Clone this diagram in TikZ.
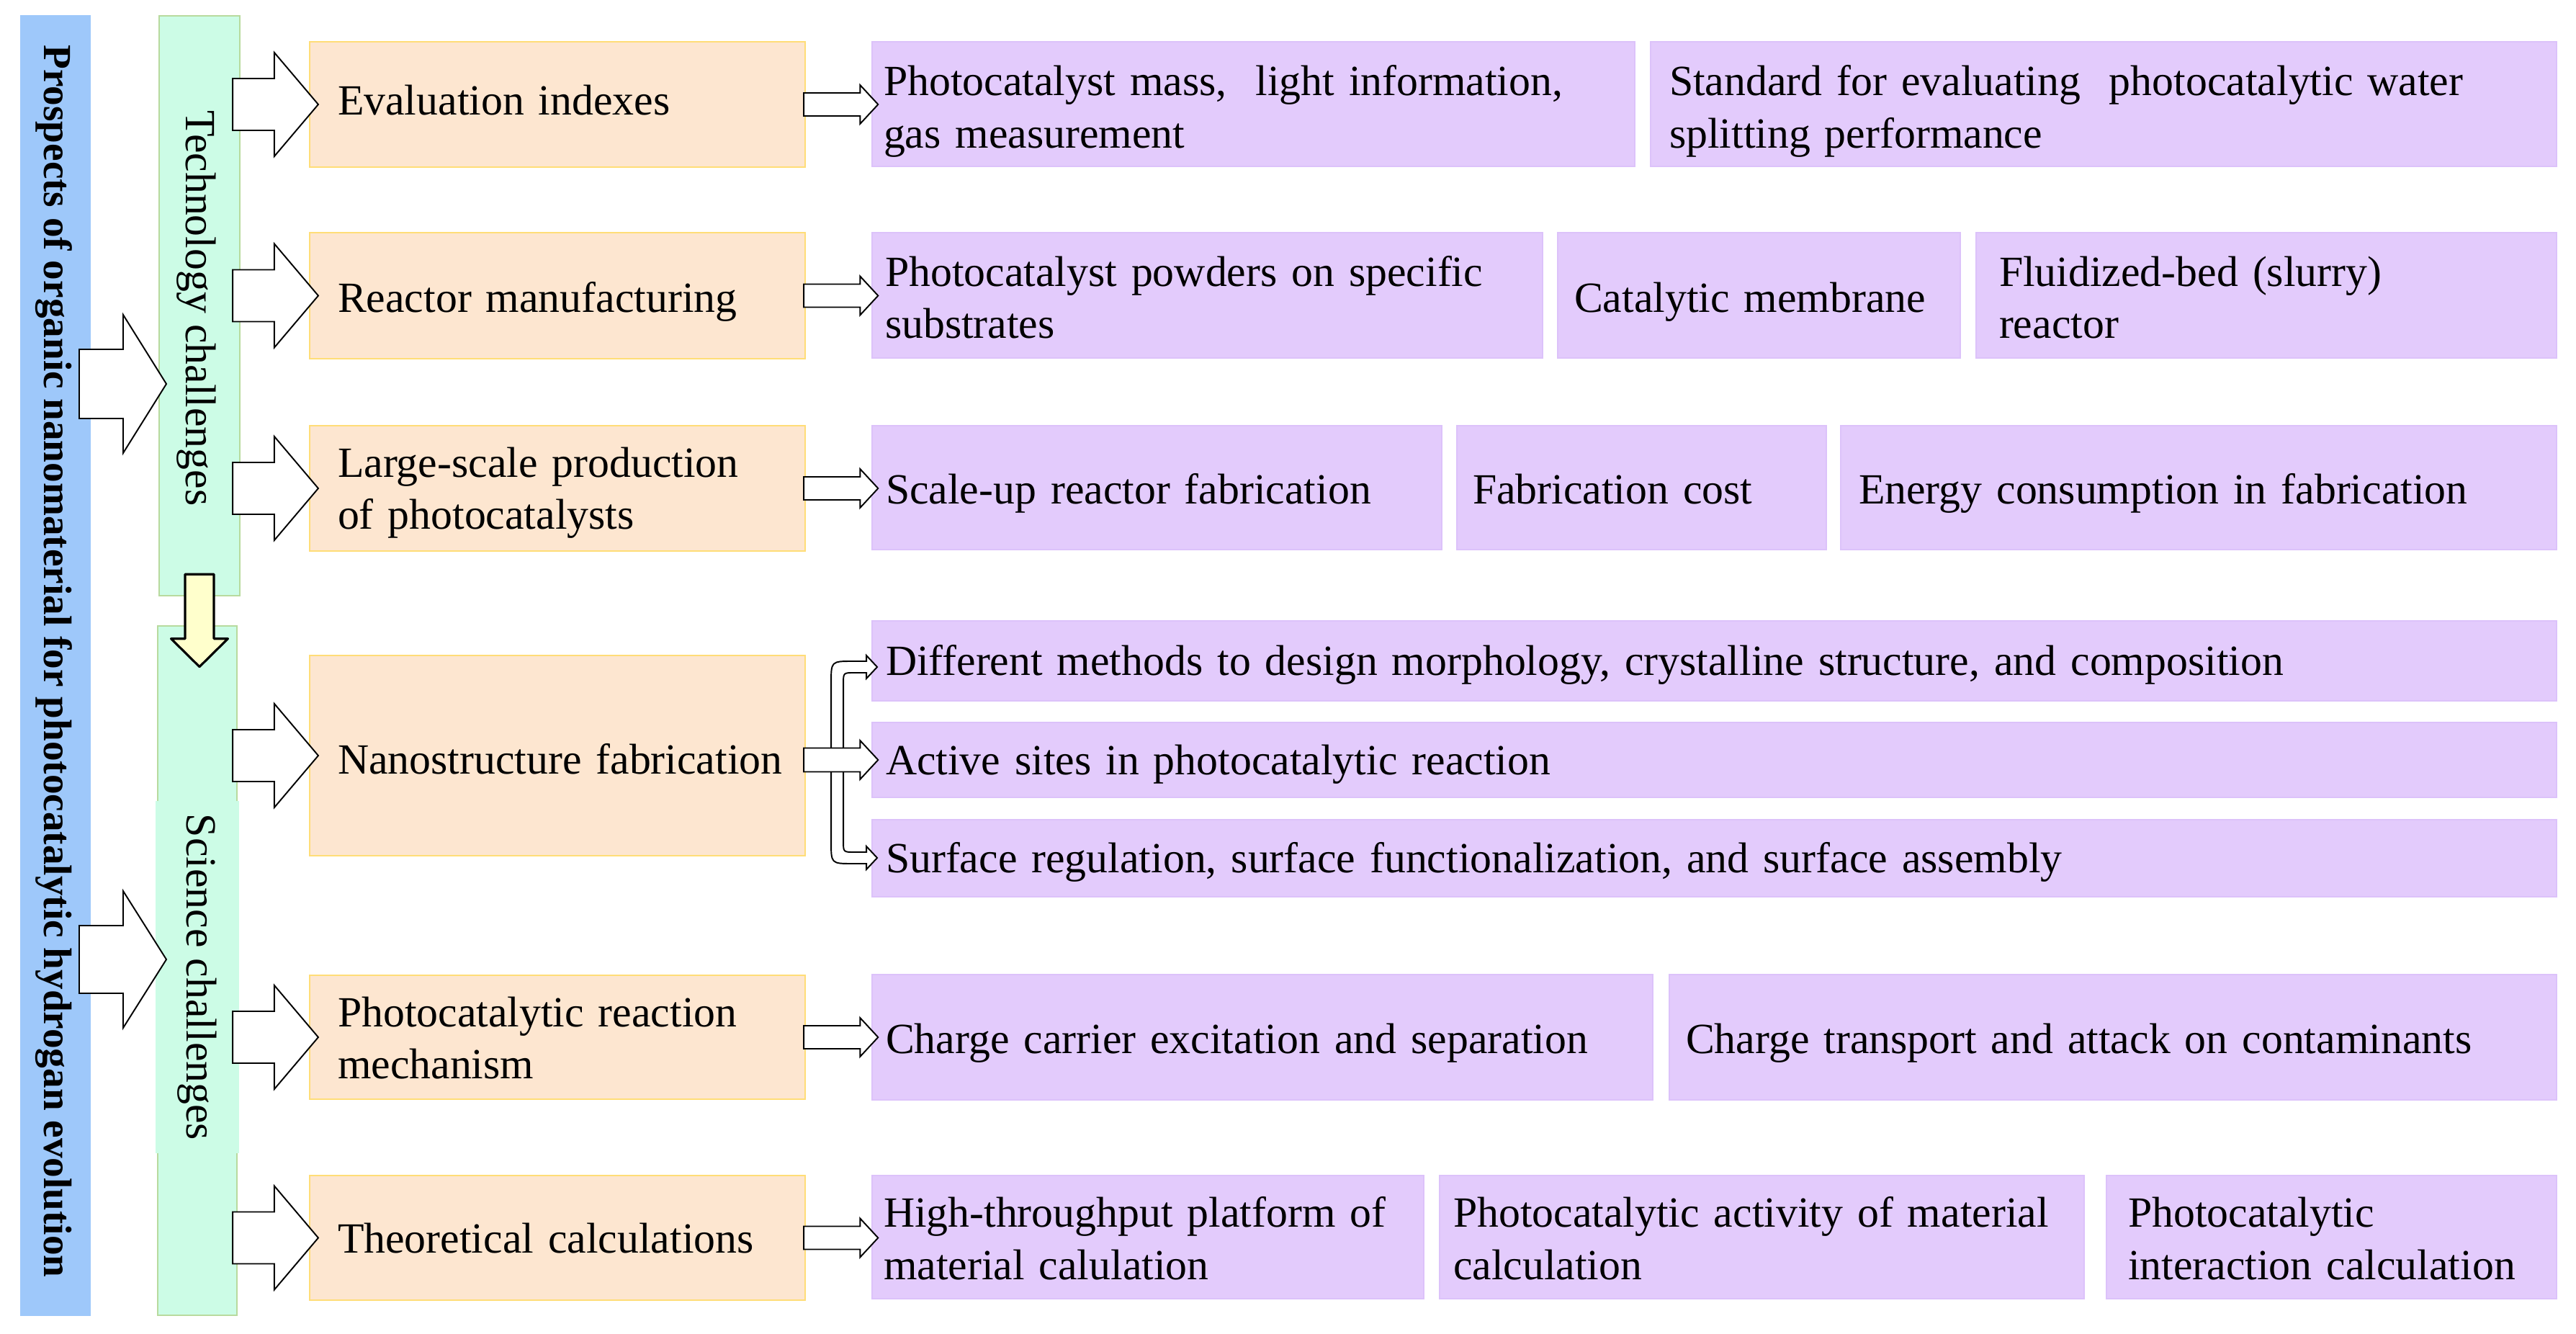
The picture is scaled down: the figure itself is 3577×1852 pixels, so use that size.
\documentclass[tikz,border=0pt]{standalone}
\usepackage{fontspec}
\setmainfont{Liberation Serif}
\usetikzlibrary{calc}
\definecolor{bluebar}{HTML}{9EC8FA}
\definecolor{greenfill}{HTML}{CCFCE6}
\definecolor{greenline}{HTML}{B8DA9E}
\definecolor{orfill}{HTML}{FDE6D0}
\definecolor{orline}{HTML}{FFDD77}
\definecolor{pufill}{HTML}{E3CBFC}
\definecolor{puline}{HTML}{DCC2FA}
\definecolor{yelfill}{HTML}{FFFFCC}
\tikzset{
  txt/.style={font=\fontsize{17}{20.6}\selectfont},
  obox/.style={txt, rectangle, fill=orfill, draw=orline, line width=0.6pt, align=left, inner xsep=0.08cm, inner ysep=0pt},
  pboxst/.style={txt, rectangle, fill=pufill, draw=puline, line width=0.4pt, align=left, inner xsep=0.08cm, inner ysep=0pt},
  gbox/.style={rectangle, fill=greenfill, draw=greenline, line width=0.6pt, inner sep=0pt},
  blockarr/.style={draw=black, fill=white, line width=0.55pt, line join=miter},
  yarrow/.style={draw=black, fill=yelfill, line width=0.9pt, line join=round},
}
% box macro: style, name, x1, y1, x2, y2, left pad, downward text shift, text   (pixel units)
\newcommand\ubox[9]{%
  \pgfmathsetlengthmacro\bw{(#5-#3-16)*0.01cm}%
  \pgfmathsetlengthmacro\bh{(#6-#4)*0.01cm}%
  \pgfmathsetlengthmacro\bl{(#7-8)*0.01cm}%
  \pgfmathsetlengthmacro\bs{(#8)*0.01cm}%
  \node[#1, text width=\bw, minimum height=\bh] (#2) at ({(#3+#5)/2},{(#4+#6)/2})
    {\leftskip=\bl\relax\raisebox{-\bs}[\height][\depth]{\begin{tabular}{@{}l@{}}#9\end{tabular}}\par};%
}
% horizontal block arrow: start, end, shaft half, head half, head length
\newcommand\harrow[5]{%
  \draw[blockarr] ($(#1)+(0,-#3)$) -- ($(#2)+(-#5,-#3)$) -- ($(#2)+(-#5,-#4)$) -- (#2)
     -- ($(#2)+(-#5,#4)$) -- ($(#2)+(-#5,#3)$) -- ($(#1)+(0,#3)$) -- cycle;%
}
\begin{document}
\begin{tikzpicture}[x=0.01cm, y=-0.01cm]
\useasboundingbox (0,0) rectangle (3577,1852);

% left bar
\node[rectangle, fill=bluebar, inner sep=0pt, minimum width=0.98cm, minimum height=18.04cm] (blue) at (77,924) {};
\node[rotate=-90, font=\bfseries\fontsize{15.7}{18}\selectfont, inner sep=0pt] (bluelabel) at (75,918)
  {Prospects of organic nanomaterial for photocatalytic hydrogan evolution};

% green boxes
\node[gbox, minimum width=1.12cm, minimum height=8.05cm] (tech) at (277,424.5) {};
\node[txt, rotate=-90, inner sep=0pt] (techlabel) at (273,428) {Technology challenges};
\node[gbox, minimum width=1.10cm, minimum height=9.57cm] (sci) at (274,1347.5) {};
\node[txt, rotate=-90, fill=greenfill, inner xsep=0pt, inner ysep=0pt, minimum width=4.89cm, minimum height=1.16cm] (scilabel) at (274,1356.5) {Science challenges};

% orange boxes
\ubox{obox}{o1}{430}{58}{1118}{232}{39}{0}{Evaluation indexes}
\ubox{obox}{o2}{430}{323}{1118}{498}{39}{9}{Reactor manufacturing}
\ubox{obox}{o3}{430}{591}{1118}{765}{39}{6}{Large-scale production\\of photocatalysts}
\ubox{obox}{o4}{430}{910}{1118}{1188}{39}{11}{Nanostructure fabrication}
\ubox{obox}{o5}{430}{1354}{1118}{1526}{39}{7}{Photocatalytic reaction\\mechanism}
\ubox{obox}{o6}{430}{1632}{1118}{1805}{39}{7}{Theoretical calculations}

% purple boxes
\ubox{pboxst}{p11}{1211}{58}{2270}{231}{16}{10}{Photocatalyst mass,\ \ light information,\\gas measurement}
\ubox{pboxst}{p12}{2292}{58}{3550}{231}{26}{10}{Standard for evaluating\ \ photocatalytic water\\splitting performance}
\ubox{pboxst}{p21}{1211}{323}{2142}{497}{18}{9}{Photocatalyst powders on specific\\substrates}
\ubox{pboxst}{p22}{2163}{323}{2722}{497}{23}{9}{Catalytic membrane}
\ubox{pboxst}{p23}{2744}{323}{3550}{497}{32}{9}{Fluidized-bed (slurry)\\reactor}
\ubox{pboxst}{p31}{1211}{591}{2002}{763}{19}{8}{Scale-up reactor fabrication}
\ubox{pboxst}{p32}{2023}{591}{2536}{763}{22}{8}{Fabrication cost}
\ubox{pboxst}{p33}{2556}{591}{3550}{763}{25}{8}{Energy consumption in fabrication}
\ubox{pboxst}{p41}{1211}{862}{3550}{973}{19}{6}{Different methods to design morphology, crystalline structure, and composition}
\ubox{pboxst}{p42}{1211}{1003}{3550}{1107}{19}{6}{Active sites in photocatalytic reaction}
\ubox{pboxst}{p43}{1211}{1138}{3550}{1245}{19}{6}{Surface regulation, surface functionalization, and surface assembly}
\ubox{pboxst}{p51}{1211}{1353}{2295}{1527}{19}{8}{Charge carrier excitation and separation}
\ubox{pboxst}{p52}{2318}{1353}{3550}{1527}{23}{8}{Charge transport and attack on contaminants}
\ubox{pboxst}{p61}{1211}{1632}{1977}{1803}{16}{8}{High-throughput platform of\\material calulation}
\ubox{pboxst}{p62}{1999}{1632}{2894}{1803}{19}{8}{Photocatalytic activity of material\\calculation}
\ubox{pboxst}{p63}{2925}{1632}{3550}{1803}{30}{8}{Photocatalytic\\interaction calculation}

% big arrows from the left bar
\coordinate (a1s) at (110,533);
\coordinate (a1e) at (231,533);
\harrow{a1s}{a1e}{48}{96}{60}
\coordinate (a2s) at (110,1332);
\coordinate (a2e) at (231,1332);
\harrow{a2s}{a2e}{47}{95}{60}

% arrows from green boxes to orange boxes
\foreach \o in {o1,o2,o3}{
  \coordinate (s\o) at ($(tech.east |- \o.west)+(-11,0)$);
  \coordinate (e\o) at ($(\o.west)+(13,0)$);
  \harrow{s\o}{e\o}{36}{72}{61}
}
\foreach \o in {o4,o5,o6}{
  \coordinate (s\o) at ($(sci.east |- \o.west)+(-7,0)$);
  \coordinate (e\o) at ($(\o.west)+(13,0)$);
  \harrow{s\o}{e\o}{36}{72}{61}
}

% arrows from orange boxes to purple boxes
\foreach \o/\p in {o1/p11,o2/p21,o3/p31,o5/p51,o6/p61}{
  \coordinate (t\o) at ($(\o.east)+(-3,0)$);
  \coordinate (u\o) at ($(\p.west |- \o.east)+(9,0)$);
  \harrow{t\o}{u\o}{16}{27}{25}
}

% branching arrows of nanostructure fabrication
\coordinate (fork) at ($(o4.east |- p42.west)+(35,0)$);
\begin{scope}[shift={(fork)}]
  \draw[blockarr] (0,1) -- (0,-107) .. controls (0,-137) .. (30,-137) -- (49,-137) -- (49,-145)
     -- (64,-129) -- (49,-113) -- (49,-121) -- (32,-121) .. controls (17,-121) .. (17,-106) -- (17,1) -- cycle;
  \draw[blockarr] (0,-1) -- (0,114) .. controls (0,144) .. (30,144) -- (49,144) -- (49,152)
     -- (64,136) -- (49,120) -- (49,128) -- (32,128) .. controls (17,128) .. (17,113) -- (17,-1) -- cycle;
\end{scope}
\coordinate (no4) at ($(o4.east |- p42.west)+(-3,0)$);
\coordinate (np4) at ($(p42.west)+(9,0)$);
\harrow{no4}{np4}{16.5}{27}{25}

% yellow arrow between the green boxes
\coordinate (ys) at ($(tech.south)+(0,-31)$);
\coordinate (ye) at ($(ys |- sci.north)+(0,58)$);
\draw[yarrow] ($(ys)+(-20,0)$) -- ($(ye)+(-20,-39)$) -- ($(ye)+(-39.5,-39)$) -- (ye)
   -- ($(ye)+(39.5,-39)$) -- ($(ye)+(20,-39)$) -- ($(ys)+(20,0)$) -- cycle;
\end{tikzpicture}
\end{document}
